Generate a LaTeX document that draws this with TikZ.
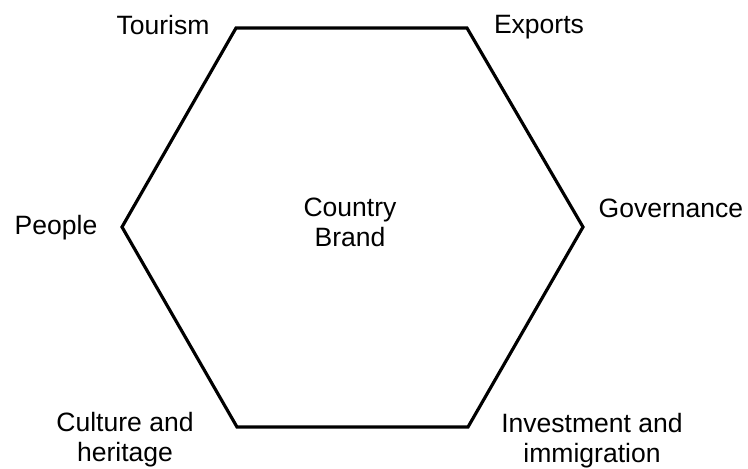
\documentclass[tikz,border=0pt]{standalone}
\usepackage{fontspec}
\setmainfont{Liberation Sans}
\begin{document}
\begin{tikzpicture}[x=0.02cm,y=-0.02cm,
    lbl/.style={font=\fontsize{15.1}{17}\selectfont, align=center, inner sep=0pt},
    hexline/.style={line width=1.8pt, line join=miter}]
    \useasboundingbox (0,0) rectangle (748,468);
    % corners of the hexagon
    \coordinate (tl) at (236,28);
    \coordinate (tr) at (467,28);
    \coordinate (r) at (583,227);
    \coordinate (br) at (468,427);
    \coordinate (bl) at (237,427);
    \coordinate (l) at (122,227);
    \draw [hexline] (tl) -- (tr) -- (r) -- (br) -- (bl) -- (l) -- cycle;
    % labels
    \node [lbl] (brand) at (350,222.5) {Country\\Brand};
    \node [lbl] (tourism) at (163,25) {Tourism};
    \node [lbl] (exports) at (539,27.5) {Exports};
    \node [lbl] (people) at (56,227.5) {People};
    \node [lbl] (governance) at (671,208.5) {Governance};
    \node [lbl] (culture) at (125,440) {Culture and\\heritage};
    \node [lbl] (invest) at (592,441) {Investment and\\immigration};
\end{tikzpicture}
\end{document}
